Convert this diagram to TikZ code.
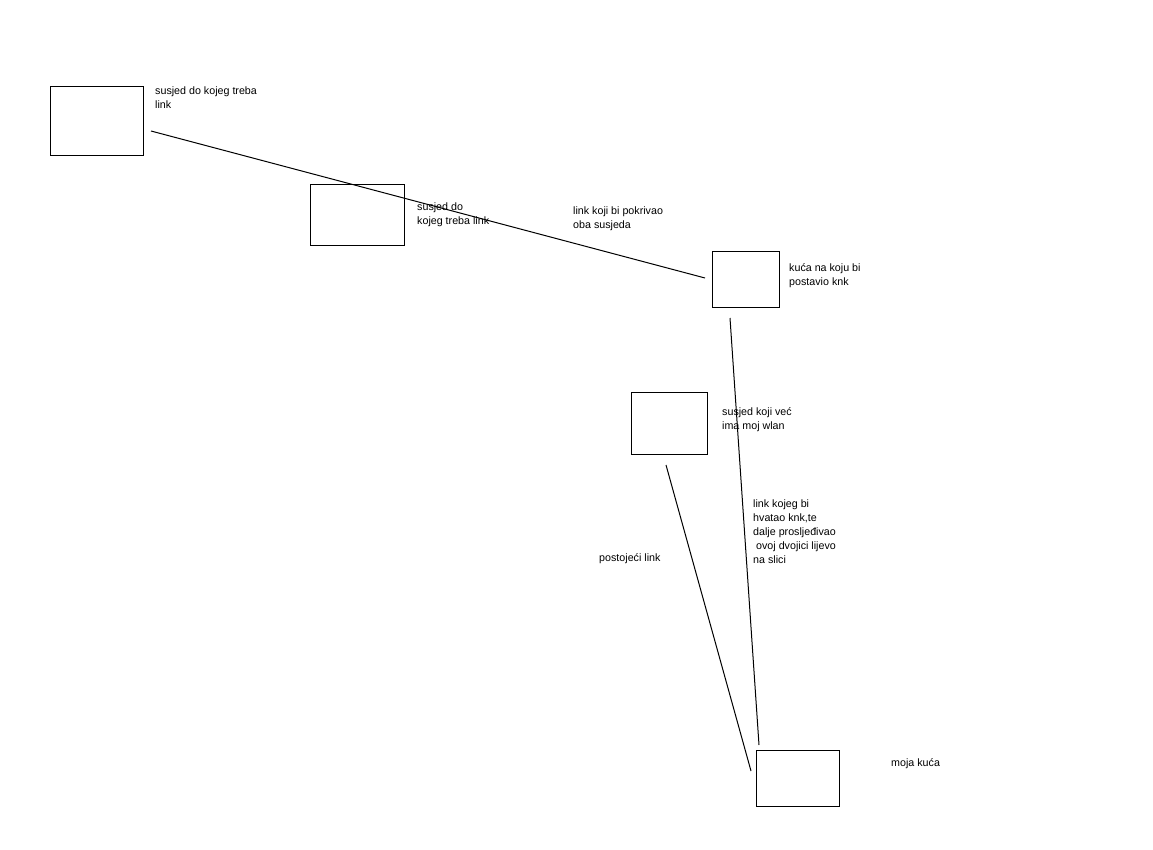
\documentclass[tikz,border=0pt]{standalone}
\usepackage{fontspec}
\setmainfont{Liberation Sans}
\begin{document}
\begin{tikzpicture}[x=1pt,y=-1pt,
  box/.style={draw=black,line width=1pt,fill=white,inner sep=0pt,anchor=north west},
  lbl/.style={anchor=north west,inner sep=0pt,align=left,font=\fontsize{10.7}{14}\selectfont},
  link/.style={draw=black,line width=1pt}]
\useasboundingbox[fill=white] (0,0) rectangle (1153,850);
% boxes
\node[box,minimum width=93pt,minimum height=69pt] (b1) at (50,86) {};
\node[box,minimum width=94pt,minimum height=61pt] (b2) at (310,184) {};
\node[box,minimum width=67pt,minimum height=56pt] (b3) at (712,251) {};
\node[box,minimum width=76pt,minimum height=62pt] (b4) at (631,392) {};
\node[box,minimum width=83pt,minimum height=56pt] (b5) at (756,750) {};
% link end points
\coordinate (l1a) at (151,131);
\coordinate (l1b) at (705,278);
\coordinate (l2a) at (730,318);
\coordinate (l2b) at (759,745);
\coordinate (l3a) at (666,465);
\coordinate (l3b) at (751,771);
\draw[link] (l1a) -- (l1b);
\draw[link] (l2a) -- (l2b);
\draw[link] (l3a) -- (l3b);
% labels
\node[lbl] (t1) at (155,87) {susjed do kojeg treba\\link};
\node[lbl] (t2) at (417,203) {susjed do\\kojeg treba link};
\node[lbl] (t3) at (573,207) {link koji bi pokrivao\\oba susjeda};
\node[lbl] (t4) at (789,263) {kuća na koju bi\\postavio knk};
\node[lbl] (t5) at (722,407) {susjed koji već\\ima moj wlan};
\node[lbl] (t6) at (753,500) {link kojeg bi\\hvatao knk,te\\dalje prosljeđivao\\\ ovoj dvojici lijevo\\na slici};
\node[lbl] (t7) at (599,553) {postojeći link};
\node[lbl] (t8) at (891,758) {moja kuća};
\end{tikzpicture}
\end{document}
